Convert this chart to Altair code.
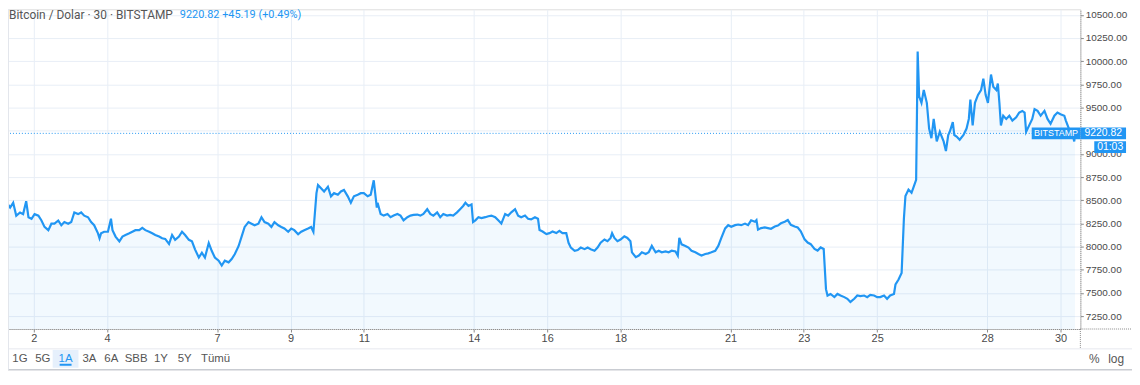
import altair as alt
import pandas as pd

# ---------------- data ----------------
# hours since 1 Oct 00:00 (30-minute bars, sampled)
hours = [
    3, 5, 6, 8.5, 10.5, 12.5, 15, 17, 19, 20.5, 22.5, 24.5, 27, 29, 31, 33.5, 35.5, 37.5, 40, 42,
    44, 46.5, 48.5, 50.5, 53, 55, 57, 59.5, 61.5, 63.5, 66, 67, 68, 70, 72.5, 74.5, 75.5, 77.5, 80, 82,
    84, 86.5, 88.5, 90.5, 93, 95, 97, 99.5, 101.5, 103.5, 106, 108, 110, 112.5, 114.5, 116.5, 119, 121, 123, 125.5,
    127.5, 129.5, 132, 134, 136, 138.5, 140.5, 142.5, 145, 147, 149, 151.5, 153.5, 155.5, 158, 160, 162, 164.5, 166.5, 168.5,
    171, 173, 175, 177.5, 179.5, 181.5, 184, 186, 188, 190.5, 192.5, 194.5, 197, 199, 201, 203.5, 205.5, 207, 209, 210,
    212, 214, 216.5, 218.5, 220.5, 223, 225, 227, 229.5, 231.5, 233.5, 236, 238, 240, 242.5, 244.5, 246.5, 248.5,
    249, 251, 253, 255.5, 257.5, 259.5, 262, 264, 266, 268.5, 270.5, 272.5, 275, 277, 279, 281.5, 283.5, 285.5, 288, 290,
    292, 294.5, 296.5, 298.5, 301, 303, 305, 306.5, 308.5, 310.5, 311.5, 313, 315, 317, 319.5, 321.5, 323.5, 326, 328, 330,
    332.5, 334.5, 336.5, 339, 341, 343, 345.5, 347.5, 349.5, 352, 354, 355, 357, 359.5, 361.5, 363.5, 366, 368, 370, 372.5,
    374, 375.5, 378, 380, 382, 384.5, 386.5, 388.5, 391, 393, 395, 397.5, 399.5, 401.5, 402.5, 404, 406, 408, 410.5, 412.5,
    414.5, 415.5, 418, 420, 422, 424.5, 426.5, 428.5, 431, 433, 435, 437.5, 439.5, 441.5, 444, 445.5, 446.5, 448, 450.5, 452.5,
    454.5, 457, 459, 461, 463.5, 465.5, 467.5, 470, 472, 474, 476.5, 478.5, 480.5, 483, 485, 487, 489.5, 491.5, 493.5,
    496, 497, 498, 500, 502.5, 504.5, 506.5, 509, 511, 513, 515.5, 517.5, 519.5, 522, 524, 526, 528.5, 530.5, 532.5, 535,
    537, 539, 541, 542.5, 543.5, 545.5, 548, 550, 552, 554.5, 556.5, 558.5, 561, 563, 565, 567.5, 569.5, 571.5, 574, 576,
    578, 580.5, 582.5, 584.5, 587, 588, 590, 592, 593.5, 594.5, 596.5, 598.5, 600, 601.5, 602, 602.5, 603.5, 605, 606.5, 608.5,
    610, 611.5, 613, 615, 617, 619.5, 621, 622.5, 623.5, 625.5, 626.5, 628, 630, 632.5, 634.5, 636, 637, 638.5, 640, 642,
    644, 645.5, 647, 648.5, 650.5, 652, 654, 655, 656, 657, 658.5, 660.5, 662.5, 664.5, 667, 669, 671, 672.5, 673.5, 675.5,
    677.5, 679, 681, 683, 685.5, 687.5, 689.5, 692, 694, 696, 698.5, 699.5, 701.5, 703.5, 705, 705.5,
]
prices = [
    8230, 8437, 8480, 8420, 8472, 8333, 8368, 8350, 8490, 8316, 8300, 8350, 8333, 8281, 8212, 8177, 8247, 8247, 8281, 8230,
    8264, 8247, 8264, 8368, 8350, 8368, 8333, 8316, 8264, 8230, 8143, 8090, 8143, 8160, 8160, 8300, 8177, 8108, 8056, 8108,
    8125, 8143, 8160, 8177, 8177, 8202, 8177, 8160, 8143, 8125, 8108, 8090, 8083, 8028, 8125, 8073, 8108, 8160, 8125, 8073,
    8056, 7970, 7882, 7934, 7882, 8038, 7952, 7882, 7848, 7796, 7848, 7830, 7865, 7917, 8004, 8108, 8212, 8264, 8247, 8230,
    8247, 8316, 8264, 8247, 8212, 8264, 8230, 8212, 8195, 8160, 8195, 8177, 8132, 8160, 8177, 8195, 8212, 8160, 8576, 8663,
    8628, 8594, 8646, 8542, 8576, 8559, 8594, 8611, 8542, 8472, 8542, 8559, 8576, 8576, 8542, 8559, 8715, 8420,
    8472, 8352, 8334, 8352, 8317, 8334, 8352, 8334, 8283, 8317, 8334, 8341, 8345, 8334, 8352, 8403, 8352, 8334, 8369, 8317,
    8352, 8334, 8341, 8334, 8369, 8403, 8438, 8472, 8438, 8455, 8265, 8283, 8317, 8307, 8317, 8327, 8334, 8317, 8283, 8248,
    8352, 8334, 8369, 8403, 8334, 8317, 8334, 8300, 8293, 8317, 8300, 8179, 8162, 8134, 8145, 8162, 8145, 8169, 8145, 8145,
    8041, 7989, 7955, 7962, 7989, 7972, 7989, 7972, 7955, 7989, 8041, 8076, 8058, 8093, 8145, 8093, 8058, 8076, 8110, 8093,
    8058, 7938, 7886, 7903, 7938, 7920, 7938, 8007, 7938, 7955, 7938, 7948, 7938, 7955, 7948, 7903, 8093, 8024, 8007, 7989,
    7955, 7938, 7920, 7903, 7920, 7927, 7938, 7955, 8007, 8093, 8196, 8231, 8214, 8231, 8238, 8231, 8248, 8231, 8283,
    8268, 8286, 8182, 8199, 8206, 8199, 8192, 8217, 8227, 8251, 8268, 8286, 8234, 8217, 8206, 8165, 8078, 8043, 8026, 7974,
    7957, 7991, 7974, 7541, 7472, 7489, 7455, 7489, 7472, 7455, 7437, 7403, 7437, 7472, 7465, 7472, 7455, 7479, 7472, 7455,
    7455, 7472, 7437, 7472, 7489, 7593, 7645, 7714, 8303, 8545, 8615, 8580, 8649, 8719, 9377, 10104, 9619, 9550, 9688, 9550,
    9273, 9169, 9377, 9134, 9238, 9134, 9030, 9203, 9238, 9342, 9203, 9186, 9152, 9203, 9273, 9377, 9584, 9307, 9550, 9636,
    9688, 9810, 9636, 9550, 9855, 9723, 9688, 9758, 9550, 9307, 9411, 9377, 9411, 9359, 9394, 9446, 9463, 9446, 9238, 9307,
    9377, 9481, 9463, 9411, 9463, 9377, 9325, 9411, 9446, 9428, 9411, 9359, 9273, 9238, 9134, 9220.82,
]

tick_days = [2, 4, 7, 9, 11, 14, 16, 18, 21, 23, 25, 28, 30]
price_ticks = [7250, 7500, 7750, 8000, 8250, 8500, 8750, 9000, 9250, 9500, 9750, 10000, 10250, 10500]

symbol_title = "Bitcoin / Dolar · 30 · BITSTAMP"
last_price = 9220.82
change = 45.19
change_pct = 0.49
exchange = "BITSTAMP"
countdown = "01:03"
ranges = ["1G", "5G", "1A", "3A", "6A", "SBB", "1Y", "5Y", "Tümü"]
active_range = "1A"
scale_opts = ["%", "log"]

# ---------------- layout / style ----------------
W, H = 1080, 322
BLUE = "#2196f3"
GREY = "#4a4a4a"
AX_FONT = "Liberation Sans, Arial, sans-serif"
FONT = "Roboto, Liberation Sans, sans-serif"
range_x = [12, 35, 58, 82, 104, 129, 154, 178, 209]
scale_x = [1094, 1116]
BOX_HALF = 64  # price units, ~6px

x_scale = alt.Scale(domain=[7.1, 709.0], nice=False, zero=False)
y_scale = alt.Scale(domain=[7111, 10559], nice=False, zero=False)

df = pd.DataFrame({"h": hours, "p": prices})
one = pd.DataFrame({"a": [0]})

x_axis = alt.Axis(
    values=[(d - 1) * 24 for d in tick_days],
    labelExpr="format(datum.value / 24 + 1, 'd')",
    title=None, labelFontSize=11, labelPadding=1, tickSize=3,
)
y_axis = alt.Axis(
    orient="right", values=price_ticks, format=".2f", title=None,
    labelFontSize=10, labelPadding=2, tickSize=3,
)

area = alt.Chart(df).mark_area(color=BLUE, opacity=0.06, clip=True).encode(
    x=alt.X("h:Q", scale=x_scale, axis=x_axis),
    y=alt.Y("p:Q", scale=y_scale, axis=y_axis),
)
line = alt.Chart(df).mark_line(color=BLUE, strokeWidth=2.2, clip=True).encode(
    x=alt.X("h:Q", scale=x_scale, axis=x_axis), y=alt.Y("p:Q", scale=y_scale, axis=y_axis)
)

lp = pd.DataFrame({"p": [last_price], "lo": [last_price - BOX_HALF], "hi": [last_price + BOX_HALF],
                   "lo2": [last_price - BOX_HALF - 21 - 2 * BOX_HALF], "hi2": [last_price - BOX_HALF - 21]})
lp["mid2"] = (lp["lo2"] + lp["hi2"]) / 2

price_rule = alt.Chart(lp).mark_rule(color=BLUE, strokeDash=[1, 2], strokeWidth=1).encode(
    y=alt.Y("p:Q", scale=y_scale, axis=y_axis)
)


def box(x0, x1, lo, hi):
    return alt.Chart(lp).mark_rect(color=BLUE).encode(
        x=alt.value(x0), x2=alt.value(x1),
        y=alt.Y(f"{hi}:Q", scale=y_scale, axis=y_axis), y2=alt.Y2(f"{lo}:Q"),
    )


def box_text(xc, txt, field="p", size=11):
    return alt.Chart(lp).mark_text(color="white", fontSize=size, font=AX_FONT, align="center",
                                   baseline="middle").encode(
        x=alt.value(xc), y=alt.Y(f"{field}:Q", scale=y_scale, axis=y_axis), text=alt.value(txt)
    )


exch_box = box(1031, 1080, "lo", "hi")
exch_txt = box_text(1055.5, exchange, size=9)
price_box = box(1080, 1126, "lo", "hi")
price_txt = box_text(1103, f"{last_price:.2f}", size=10.5)
cd_box = box(1094, 1126, "lo2", "hi2")
cd_txt = box_text(1110, countdown, field="mid2", size=10.5)

header1 = alt.Chart(one).mark_text(align="left", baseline="middle", fontSize=12, font=FONT,
                                   color="#555555").encode(
    x=alt.value(1), y=alt.value(6), text=alt.value(symbol_title))
header2 = alt.Chart(one).mark_text(align="left", baseline="middle", fontSize=11, font=FONT,
                                   color=BLUE).encode(
    x=alt.value(173), y=alt.value(6),
    text=alt.value(f"{last_price:.2f} +{change:.2f} (+{change_pct:.2f}%)"))


def rule(x0, x1, y0, y1, color, dash=None, width=1):
    kw = dict(color=color, strokeWidth=width)
    if dash:
        kw["strokeDash"] = dash
    return alt.Chart(one).mark_rule(**kw).encode(
        x=alt.value(x0), x2=alt.value(x1), y=alt.value(y0), y2=alt.value(y1))


frame = [
    rule(W, 1132, H, H, "#8a8a8a", [1, 1]),
    rule(W, W, H, 342, "#8a8a8a", [1, 1]),
    rule(0, 1132, 342, 342, "#e6e9ef"),
    rule(0, 1132, 363, 363, "#c9ccd2", width=1.5),
    rule(0.5, 0.5, 0, 363, "#e3e6ec"),
]

active_idx = ranges.index(active_range)
hl_box = alt.Chart(one).mark_rect(color="#e6f0fc").encode(
    x=alt.value(range_x[active_idx] - 13), x2=alt.value(range_x[active_idx] + 13),
    y=alt.value(343), y2=alt.value(361))
hl_line = rule(range_x[active_idx] - 6, range_x[active_idx] + 6, 358, 358, BLUE, width=2)

toolbar = []
for lbl, xp in zip(ranges, range_x):
    toolbar.append(alt.Chart(one).mark_text(
        align="center", baseline="middle", fontSize=11.5, font=AX_FONT, fontWeight=500,
        color=BLUE if lbl == active_range else "#555555").encode(
        x=alt.value(xp), y=alt.value(352), text=alt.value(lbl)))
for lbl, xp in zip(scale_opts, scale_x):
    toolbar.append(alt.Chart(one).mark_text(
        align="center", baseline="middle", fontSize=12, font=AX_FONT, color="#555555").encode(
        x=alt.value(xp), y=alt.value(352), text=alt.value(lbl)))

chart = alt.layer(
    area, line, price_rule, exch_box, exch_txt, price_box, price_txt, cd_box, cd_txt,
    header1, header2, *frame, hl_box, hl_line, *toolbar,
).properties(
    width=W, height=H,
    autosize=alt.AutoSizeParams(type="none"),
    padding={"left": 0, "top": 0, "right": 52, "bottom": 42},
).configure_view(stroke=None).configure(background="white").configure_axis(
    labelOverlap=False, labelFlush=False, labelFont=AX_FONT, labelColor=GREY,
    grid=True, gridColor="#e8eef6", gridWidth=1,
    domainColor="#8a8a8a", domainDash=[1, 1], tickColor="#8a8a8a",
)

chart.save("out.html", embed_options={"renderer": "svg", "actions": False})
